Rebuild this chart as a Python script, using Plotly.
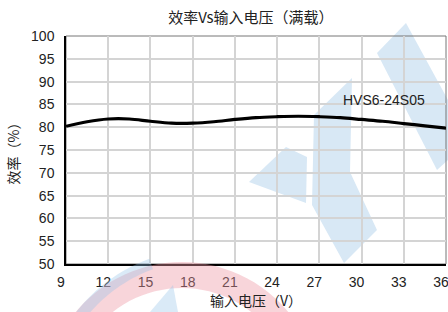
import math
import plotly.graph_objects as go

voltage = [9, 10.5, 12, 13.5, 15, 16.5, 18, 19.5, 21, 22.5, 24, 25.5, 27, 28.5, 30, 31.5, 33, 34.5, 36]
efficiency = [80.2, 81.2, 81.8, 81.8, 81.3, 80.9, 80.9, 81.2, 81.7, 82.1, 82.3, 82.4, 82.3, 82.1, 81.7, 81.3, 80.8, 80.3, 79.8]
x_ticks = [9, 12, 15, 18, 21, 24, 27, 30, 33, 36]
y_ticks = [50, 55, 60, 65, 70, 75, 80, 85, 90, 95, 100]
series_name = "HVS6-24S05"

font = "Liberation Sans, Arial, Noto Sans CJK SC, sans-serif"
cjk = "Noto Sans CJK SC, Liberation Sans, sans-serif"

W, H = 448, 312
ML, MR, MT, MB = 66, 2, 36, 48
PW, PH = W - ML - MR, H - MT - MB


def paper_pt(px, py):
    return (px - ML) / PW, (H - MB - py) / PH


def poly_path(pts):
    s = ""
    for i, (px, py) in enumerate(pts):
        x, y = paper_pt(px, py)
        s += ("M" if i == 0 else "L") + f"{x:.4f},{y:.4f} "
    return s + "Z"


def ring_pts(cx, cy, r_out, r_in, a0, a1, n=40):
    outer = [(cx + r_out * math.cos(math.radians(a0 + (a1 - a0) * k / n)),
              cy - r_out * math.sin(math.radians(a0 + (a1 - a0) * k / n))) for k in range(n + 1)]
    inner = [(cx + r_in * math.cos(math.radians(a1 - (a1 - a0) * k / n)),
              cy - r_in * math.sin(math.radians(a1 - (a1 - a0) * k / n))) for k in range(n + 1)]
    return outer + inner


blue = "#d8e8f5"
blue_t = "rgba(150,195,232,0.35)"
pink_t = "rgba(238,150,162,0.40)"
watermark = [
    ([(249, 182), (286, 147), (307, 157), (306, 203)], blue, "below"),
    ([(352, 78), (314, 115), (312, 205), (344, 263), (377, 230), (350, 172)], blue, "below"),
    ([(377, 53), (406, 23), (448, 100), (448, 160), (437, 170)], blue, "below"),
    (ring_pts(182, 400, 138, 112, 20, 160), pink_t, "above"),
    (ring_pts(205, 412, 163, 152, 110, 165), blue_t, "above"),
    ([(150, 312), (173, 285), (178, 312)], blue_t, "above"),
]

fig = go.Figure()
for pts, col, lay in watermark:
    fig.add_shape(type="path", xref="paper", yref="paper", path=poly_path(pts),
                  fillcolor=col, line=dict(width=0), layer=lay)

fig.add_trace(go.Scatter(x=voltage, y=efficiency, mode="lines",
                         line=dict(color="black", width=3.2, shape="spline"),
                         name=series_name, showlegend=False, cliponaxis=False))
fig.add_annotation(x=31.6, y=86, text=series_name, showarrow=False,
                   font=dict(family=font, size=14, color="#222"))

fig.update_layout(
    width=W, height=H,
    margin=dict(l=ML, r=MR, t=MT, b=MB),
    paper_bgcolor="white", plot_bgcolor="rgba(0,0,0,0)",
    title=dict(text="效率Vs输入电压（满载）", x=0.56, xanchor="center", y=0.942, yanchor="middle",
               font=dict(family=cjk, size=15, color="#222")),
    xaxis=dict(range=[9, 36], tickvals=x_ticks, showgrid=True, gridcolor="#d4d4d4", gridwidth=1.5,
               showline=True, linecolor="black", linewidth=1.5, mirror=False,
               ticks="outside", ticklen=4, tickcolor="rgba(0,0,0,0)",
               ticklabeloverflow="allow", ticklabelshift=-5, automargin=False,
               tickfont=dict(family=font, size=14, color="#222"),
               title=dict(text="输入电压（V）", font=dict(family=cjk, size=14, color="#222"), standoff=6),
               zeroline=False),
    yaxis=dict(range=[50, 100], tickvals=y_ticks, showgrid=True, gridcolor="#d4d4d4", gridwidth=1.5,
               showline=True, linecolor="black", linewidth=1.5,
               ticks="outside", ticklen=7, tickcolor="rgba(0,0,0,0)",
               automargin=False,
               tickfont=dict(family=font, size=14, color="#222"),
               title=dict(text="效率（%）", font=dict(family=cjk, size=14, color="#222"), standoff=8),
               zeroline=False),
)
fig.add_shape(type="rect", xref="paper", yref="paper", x0=0, y0=0, x1=1, y1=1,
              line=dict(color="#777", width=1), layer="below")
fig.write_html("out.html", config={"displayModeBar": False},
               post_script="document.body.style.margin='0';document.body.style.overflow='hidden';")
